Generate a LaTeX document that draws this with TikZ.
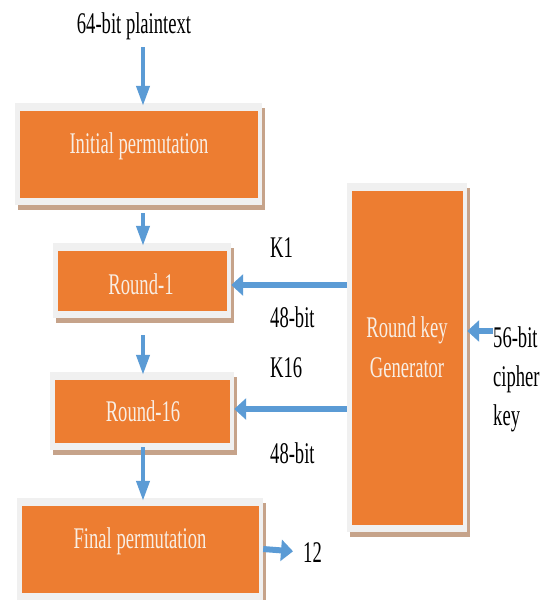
\documentclass[tikz,border=0pt]{standalone}
\usepackage{fontspec}
\setmainfont{Liberation Serif}[FakeStretch=0.62]
\usetikzlibrary{arrows.meta}
\definecolor{boxorange}{RGB}{237,125,49}
\definecolor{framegray}{RGB}{240,240,240}
\definecolor{shadowbrown}{RGB}{198,163,138}
\definecolor{flowblue}{RGB}{91,155,213}
\definecolor{boxtext}{RGB}{248,238,228}
\begin{document}
\begin{tikzpicture}[x=1pt,y=-1pt,
  every node/.style={font=\fontsize{30}{39}\selectfont, inner sep=0pt},
  panel/.style={rectangle, fill=framegray,
    preaction={fill=shadowbrown, transform canvas={shift={(3pt,-5pt)}}},
    path picture={\fill[boxorange]
      ([xshift=4.5pt,yshift=-8pt]path picture bounding box.north west) rectangle
      ([xshift=-4.5pt,yshift=7pt]path picture bounding box.south east);}},
  intext/.style={text=boxtext, anchor=base},
  lbl/.style={anchor=base west},
  varrow/.style={flowblue, line width=4pt, shorten >=-3pt,
    -{Triangle[length=20pt,width=13pt]}},
  harrow/.style={flowblue, line width=6pt,
    -{Triangle[length=12pt,width=21pt]}}]
\useasboundingbox (0,0) rectangle (556,600);

% stage boxes
\node[panel, minimum width=247, minimum height=102] (init) at (138.5,154) {};
\node[panel, minimum width=178, minimum height=75] (round1) at (142,280.5) {};
\node[panel, minimum width=184, minimum height=78] (round16) at (142,411) {};
\node[panel, minimum width=246, minimum height=102] (final) at (140,549) {};
\node[panel, minimum width=120, minimum height=349] (gen) at (407,357.5) {};

% box captions
\node[intext] at (139,153) {Initial permutation};
\node[intext] at (141,294) {Round-1};
\node[intext] at (143,421) {Round-16};
\node[intext] at (140,548) {Final permutation};
\node[text=boxtext, anchor=north, align=center, font=\fontsize{30}{40}\selectfont]
  at (407,316.5) {Round key\\Generator};

% outside labels
\node[anchor=base] (plain) at (134,33) {64-bit plaintext};
\node[lbl] at (270,257) {K1};
\node[lbl] at (270,327) {48-bit};
\node[lbl] at (270,377) {K16};
\node[lbl] at (270,463) {48-bit};
\node[anchor=north west, align=left] (ckeytxt) at (493,326.5) {56-bit\\cipher\\key};
\node[lbl] (twelve) at (303,562) {12};

% main data path
\coordinate (axis) at (143,0);
\draw[varrow, shorten <=7.5pt] (plain.south -| axis) -- (init.north -| axis);
\draw[varrow, shorten <=8pt] (init.south -| axis) -- (round1.north -| axis);
\draw[varrow, shorten <=17pt] (round1.south -| axis) -- (round16.north -| axis);
\draw[varrow, shorten <=-3pt] (round16.south -| axis) -- (final.north -| axis);

% round keys
\coordinate (k1in) at ([yshift=-4.5pt]round1.east);
\coordinate (k16in) at ([yshift=2pt]round16.east);
\draw[harrow] (k1in -| gen.west) -- (k1in);
\draw[harrow] (k16in -| gen.west) -- (k16in);

% cipher key input and output
\coordinate (ckey) at (493,331);
\draw[harrow] (ckey) -- (ckey -| gen.east);
\draw[harrow, shorten >=10pt] (final.east) -- (twelve.west);
\end{tikzpicture}
\end{document}
